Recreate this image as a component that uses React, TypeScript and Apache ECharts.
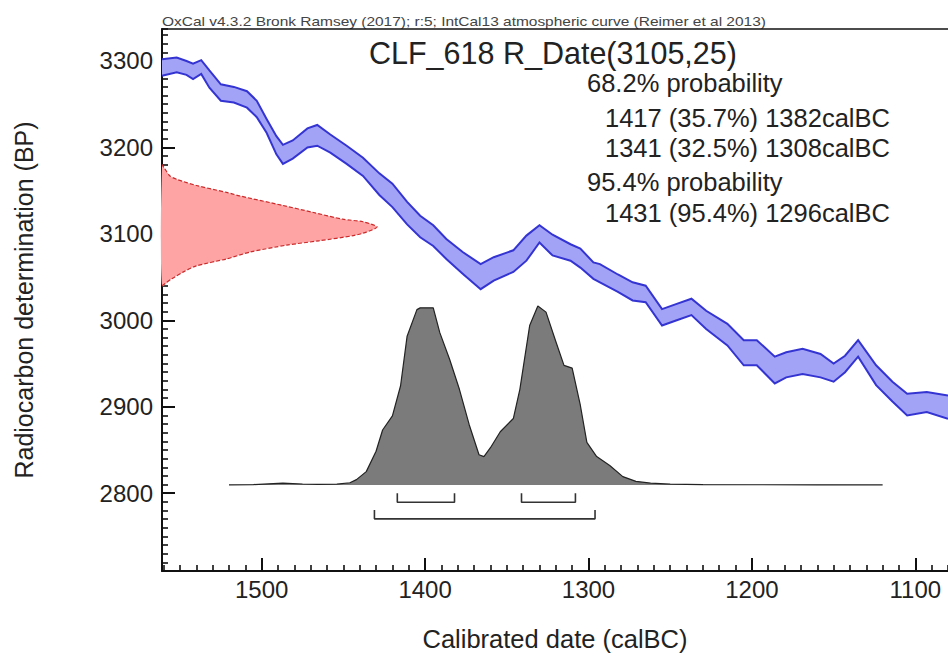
import React, { useEffect, useRef } from "react";
import * as echarts from "echarts";

// ---------- data ----------
const headerText =
  "OxCal v4.3.2 Bronk Ramsey (2017); r:5; IntCal13 atmospheric curve (Reimer et al 2013)";
const chartTitle = "CLF_618 R_Date(3105,25)";
const summaryLines = [
  "68.2% probability",
  "1417 (35.7%) 1382calBC",
  "1341 (32.5%) 1308calBC",
  "95.4% probability",
  "1431 (95.4%) 1296calBC",
];
const xAxisName = "Calibrated date (calBC)";
const yAxisName = "Radiocarbon determination (BP)";

// IntCal13 calibration curve band (calBC, upper / lower BP)
const calYears = [1561, 1552, 1546, 1542, 1537, 1532, 1525, 1517, 1509, 1503, 1497, 1491, 1487, 1481, 1472, 1466, 1458, 1448, 1438, 1428, 1420, 1411, 1403, 1395, 1387, 1377, 1366, 1358, 1346, 1338, 1330, 1322, 1311, 1305, 1297, 1293, 1282, 1273, 1265, 1255, 1246, 1237, 1228, 1215, 1205, 1197, 1186, 1179, 1169, 1158, 1150, 1143, 1135, 1124, 1114, 1105, 1093, 1080];
const calUpper = [3302, 3304, 3300, 3297, 3301, 3289, 3273, 3270, 3265, 3254, 3233, 3213, 3203, 3208, 3222, 3226, 3215, 3202, 3188, 3170, 3158, 3137, 3121, 3110, 3094, 3079, 3065, 3073, 3081, 3098, 3110, 3099, 3088, 3083, 3067, 3065, 3053, 3044, 3040, 3013, 3019, 3025, 3011, 2996, 2977, 2977, 2958, 2963, 2967, 2961, 2950, 2959, 2977, 2948, 2929, 2915, 2917, 2913];
const calLower = [3283, 3287, 3284, 3279, 3285, 3269, 3254, 3252, 3246, 3235, 3217, 3192, 3181, 3187, 3200, 3202, 3194, 3181, 3167, 3145, 3131, 3111, 3096, 3086, 3071, 3054, 3036, 3046, 3056, 3069, 3090, 3075, 3069, 3061, 3048, 3044, 3033, 3023, 3021, 2994, 3000, 3006, 2990, 2971, 2948, 2948, 2927, 2934, 2938, 2934, 2929, 2940, 2958, 2925, 2906, 2890, 2894, 2886];

// Radiocarbon measurement distribution (BP, relative probability)
const rDateBP = [3040, 3048, 3056, 3063, 3071, 3079, 3087, 3092, 3098, 3102, 3108, 3114, 3117, 3125, 3133, 3144, 3148, 3156, 3163, 3167, 3175, 3180];
const rDateProb = [0, 0.045, 0.1, 0.16, 0.3, 0.41, 0.58, 0.73, 0.89, 0.95, 1.0, 0.935, 0.84, 0.7, 0.56, 0.36, 0.3, 0.16, 0.07, 0.037, 0.014, 0];

// Calibrated distribution (calBC, relative probability)
const calibYears = [1520, 1505, 1487, 1475, 1466, 1454, 1446, 1442, 1436, 1430, 1426, 1420, 1415, 1411, 1405, 1403, 1395, 1391, 1385, 1379, 1373, 1367, 1364, 1360, 1354, 1346, 1342, 1336, 1331, 1326, 1320, 1315, 1310, 1305, 1301, 1295, 1287, 1279, 1271, 1262, 1250, 1230, 1200, 1160, 1120];
const calibProb = [0, 0.002, 0.01, 0.005, 0.003, 0.004, 0.012, 0.03, 0.075, 0.19, 0.31, 0.39, 0.56, 0.84, 0.99, 1.0, 1.0, 0.86, 0.71, 0.54, 0.34, 0.17, 0.16, 0.21, 0.3, 0.375, 0.54, 0.9, 1.01, 0.976, 0.81, 0.675, 0.66, 0.45, 0.24, 0.16, 0.11, 0.047, 0.02, 0.01, 0.004, 0.002, 0.001, 0.0005, 0];

// Highest posterior density ranges (calBC)
const range68 = [
  [1417, 1382],
  [1341, 1308],
];
const range95 = [[1431, 1296]];

// ---------- layout / styles ----------
const FONT = "'Liberation Sans', Arial, Helvetica, sans-serif";
const X_MIN = 1080;
const X_MAX = 1561;
const Y_MIN = 2710;
const Y_MAX = 3337;
const CALIB_BASE_BP = 2809.6;
const CALIB_PEAK_BP = 3014.4;
const RDATE_PEAK_YEAR = 1429.4;
const BRACKET68 = [2789.6, 2800];
const BRACKET95 = [2770.3, 2780.7];
const TICK = "#111";

const labelFmt = (v: number) => String(Math.round(v));

function buildOption() {
  const calibSpan = CALIB_PEAK_BP - CALIB_BASE_BP;
  const calibAxisMin = (Y_MIN - CALIB_BASE_BP) / calibSpan;
  const calibAxisMax = (Y_MAX - CALIB_BASE_BP) / calibSpan;
  const rDateAxisMax = (X_MAX - X_MIN) / (X_MAX - RDATE_PEAK_YEAR);

  const bracketSeries = (ranges: number[][], lv: number[]) =>
    ranges.map((r) => ({
      type: "line",
      xAxisIndex: 0,
      yAxisIndex: 0,
      symbol: "none",
      silent: true,
      z: 5,
      lineStyle: { color: "#333", width: 1.6 },
      data: [
        [r[0], lv[1]],
        [r[0], lv[0]],
        [r[1], lv[0]],
        [r[1], lv[1]],
      ],
    }));

  const headingX = 587;
  const rangeX = 605;
  const lineY = [83, 118, 148, 182, 213];

  return {
    animation: false,
    backgroundColor: "#ffffff",
    grid: { left: 162, top: 29, width: 786, height: 544, containLabel: false },
    xAxis: [
      {
        type: "value",
        min: X_MIN,
        max: X_MAX,
        inverse: true,
        position: "bottom",
        minInterval: 100,
        maxInterval: 100,
        axisLine: { show: true, onZero: false, lineStyle: { color: "#111", width: 2 } },
        axisTick: { show: true, inside: true, length: 13, lineStyle: { color: TICK, width: 2 } },
        axisLabel: {
          show: true,
          fontSize: 24,
          color: "#222",
          fontFamily: FONT,
          margin: 6,
          showMinLabel: false,
          showMaxLabel: false,
          formatter: labelFmt,
        },
        splitLine: { show: false },
        name: xAxisName,
        nameLocation: "middle",
        nameGap: 55,
        nameTextStyle: { fontSize: 25.5, color: "#222", fontFamily: FONT },
      },
      {
        type: "value",
        min: X_MIN,
        max: X_MAX,
        inverse: true,
        position: "bottom",
        interval: 10,
        axisLine: { show: false, onZero: false },
        axisTick: { show: true, inside: true, length: 6, lineStyle: { color: TICK, width: 1.6 } },
        axisLabel: { show: false },
        splitLine: { show: false },
      },
      {
        type: "value",
        min: 0,
        max: rDateAxisMax,
        position: "top",
        axisLine: { show: true, onZero: false, lineStyle: { color: "#111", width: 1.5 } },
        axisTick: { show: false },
        axisLabel: { show: false },
        splitLine: { show: false },
      },
    ],
    yAxis: [
      {
        type: "value",
        min: Y_MIN,
        max: Y_MAX,
        position: "left",
        minInterval: 100,
        maxInterval: 100,
        axisLine: { show: true, onZero: false, lineStyle: { color: "#111", width: 2 } },
        axisTick: { show: true, inside: true, length: 13, lineStyle: { color: TICK, width: 2 } },
        axisLabel: {
          show: true,
          fontSize: 24,
          color: "#222",
          fontFamily: FONT,
          margin: 9,
          showMinLabel: false,
          showMaxLabel: false,
          formatter: labelFmt,
        },
        splitLine: { show: false },
        name: yAxisName,
        nameLocation: "middle",
        nameRotate: 90,
        nameGap: 126,
        nameTextStyle: { fontSize: 25, color: "#222", fontFamily: FONT },
      },
      {
        type: "value",
        min: Y_MIN,
        max: Y_MAX,
        position: "left",
        interval: 10,
        axisLine: { show: false, onZero: false },
        axisTick: { show: true, inside: true, length: 6, lineStyle: { color: TICK, width: 1.6 } },
        axisLabel: { show: false },
        splitLine: { show: false },
      },
      {
        type: "value",
        show: false,
        min: calibAxisMin,
        max: calibAxisMax,
        axisLine: { onZero: false },
        splitLine: { show: false },
      },
    ],
    graphic: [
      {
        type: "text",
        x: 162,
        y: 28,
        scaleX: 1.29,
        silent: true,
        style: {
          text: headerText,
          fontSize: 12,
          fontFamily: FONT,
          fill: "#444",
          align: "left",
          verticalAlign: "bottom",
        },
      },
      {
        type: "text",
        x: 369,
        y: 53,
        silent: true,
        style: {
          text: chartTitle,
          fontSize: 30.5,
          fontFamily: FONT,
          fill: "#222",
          align: "left",
          verticalAlign: "middle",
        },
      },
      ...summaryLines.map((t, i) => ({
        type: "text",
        x: t.indexOf("probability") >= 0 ? headingX : rangeX,
        y: lineY[i],
        silent: true,
        style: {
          text: t,
          fontSize: 25.5,
          fontFamily: FONT,
          fill: "#222",
          align: "left",
          verticalAlign: "middle",
        },
      })),
    ],
    series: [
      {
        type: "custom",
        name: "IntCal13",
        xAxisIndex: 0,
        yAxisIndex: 0,
        silent: true,
        z: 3,
        data: [[X_MAX, Y_MAX]],
        renderItem: (_params: any, api: any) => {
          const up = calYears.map((x, i) => api.coord([x, calUpper[i]]));
          const lo = calYears.map((x, i) => api.coord([x, calLower[i]]));
          return {
            type: "group",
            children: [
              {
                type: "polygon",
                shape: { points: up.concat(lo.slice().reverse()) },
                style: { fill: "#a2a2f6", stroke: "none" },
              },
              {
                type: "polyline",
                shape: { points: up },
                style: { fill: "none", stroke: "#3434d2", lineWidth: 2 },
              },
              {
                type: "polyline",
                shape: { points: lo },
                style: { fill: "none", stroke: "#3434d2", lineWidth: 2 },
              },
            ],
          };
        },
      },
      {
        type: "custom",
        name: "R_Date",
        xAxisIndex: 2,
        yAxisIndex: 0,
        silent: true,
        z: 3,
        data: [[0, Y_MAX]],
        renderItem: (_params: any, api: any) => {
          const pts = rDateBP.map((bp, i) => api.coord([rDateProb[i], bp]));
          return {
            type: "group",
            children: [
              {
                type: "polygon",
                shape: { points: pts, smooth: 0.25 },
                style: { fill: "#ffa4a4", stroke: "none" },
              },
              {
                type: "polyline",
                shape: { points: pts, smooth: 0.25 },
                style: { fill: "none", stroke: "#cc2a2a", lineWidth: 1.2, lineDash: [4, 2] },
              },
            ],
          };
        },
      },
      {
        type: "line",
        name: "Calibrated",
        xAxisIndex: 0,
        yAxisIndex: 2,
        symbol: "none",
        silent: true,
        z: 4,
        lineStyle: { color: "#222", width: 1.2 },
        areaStyle: { color: "#7b7b7b", opacity: 1 },
        data: calibYears.map((x, i) => [x, calibProb[i]]),
      },
      ...bracketSeries(range68, BRACKET68),
      ...bracketSeries(range95, BRACKET95),
    ],
  };
}

export default function App() {
  const ref = useRef<HTMLDivElement>(null);
  useEffect(() => {
    document.body.style.margin = "0";
    if (!ref.current) return;
    const chart = echarts.init(ref.current, undefined, { renderer: "svg" });
    chart.setOption(buildOption() as any);
    return () => chart.dispose();
  }, []);
  return <div ref={ref} style={{ width: 948, height: 657 }} />;
}
